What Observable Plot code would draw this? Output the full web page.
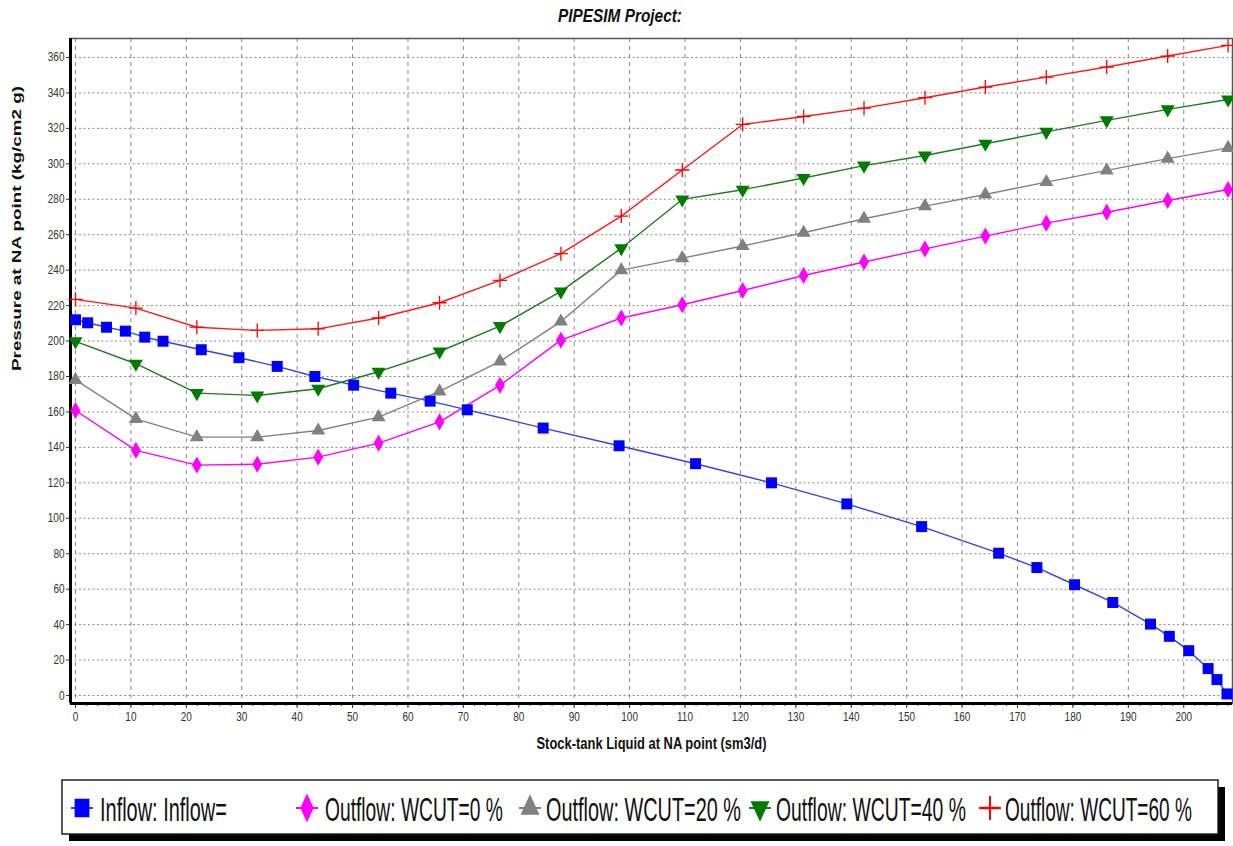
<!DOCTYPE html>
<html><head><meta charset="utf-8">
<script src="https://cdn.jsdelivr.net/npm/d3@7"></script>
<script src="https://cdn.jsdelivr.net/npm/@observablehq/plot@0.6"></script>
<style>
body{margin:0;background:#fff;width:1233px;height:846px;position:relative;overflow:hidden;font-family:"Liberation Sans",Arial,sans-serif;}
#chart{position:absolute;top:30px;left:0;}
#deco{position:absolute;top:0;left:0;pointer-events:none;}
</style></head>
<body>
<div id="chart"></div>
<script>
// ---- data ----
const xTicks = [0,10,20,30,40,50,60,70,80,90,100,110,120,130,140,150,160,170,180,190,200];
const yTicks = [0,20,40,60,80,100,120,140,160,180,200,220,240,260,280,300,320,340,360];

const inflowX = [0,2.2,5.6,9.0,12.5,15.8,22.7,29.5,36.4,43.2,50.2,56.9,64.0,70.7,84.4,98.1,111.9,125.6,139.2,152.7,166.6,173.5,180.3,187.2,194.0,197.4,200.9,204.4,206.0,207.8];
const inflowP = [212,210.3,207.8,205.6,202.2,199.9,195.1,190.6,185.7,180.0,175.1,170.6,166.1,161.2,150.9,140.9,130.8,120,108.1,95.3,80.3,72.2,62.5,52.5,40.3,33.4,25.3,15.2,9.0,0.9];

const outflowX = [0,10.9,21.9,32.8,43.8,54.7,65.7,76.6,87.6,98.5,109.5,120.4,131.4,142.3,153.3,164.2,175.2,186.1,197.1,208];
const wcut0  = [160.8,138.3,130,130.5,134.5,142.4,154.4,175,200.5,213,220.5,228.5,237,244.6,252,259.2,266.5,272.7,279.3,285.5];
const wcut20 = [178.1,156.1,145.8,145.8,149.5,157.1,171.6,188.5,211,240,246.8,253.6,261.1,269,276.1,282.7,289.7,296.3,302.9,309];
const wcut40 = [199.8,187.2,170.6,169.3,173.1,182.7,194.1,208.4,228,252.4,279.9,285.4,292,299,304.7,311.3,318,324.5,330.7,336.3];
const wcut60 = [223.5,218.6,207.8,206,206.9,213,221.6,234.2,249.3,270.5,296.5,322.2,326.7,331.4,337.3,343.3,348.9,354.6,360.8,366.8];

const seriesNames = ["Inflow: Inflow=","Outflow: WCUT=0 %","Outflow: WCUT=20 %","Outflow: WCUT=40 %","Outflow: WCUT=60 %"];
const titleText = "PIPESIM Project:";
const xLabel = "Stock-tank Liquid at NA point (sm3/d)";
const yLabel = "Pressure at NA point (kg/cm2 g)";

// ---- styles ----
const styles = [
  {line:"#3344d8", fill:"#0000ff", stroke:"none", symbol:"square", r:6.2, rotate:0},
  {line:"#ff00ff", fill:"#ff00ff", stroke:"none", symbol:"diamond", r:5.2, rotate:0},
  {line:"#808080", fill:"#808080", stroke:"none", symbol:"triangle", r:5.2, rotate:0},
  {line:"#1f7a1f", fill:"#007a00", stroke:"none", symbol:"triangle", r:5.2, rotate:180},
  {line:"#ff1a1a", fill:"none", stroke:"#ff0000", symbol:"plus", r:4.6, rotate:0}
];

const seriesData = [
  inflowX.map((x,i)=>({x, y:inflowP[i]})),
  outflowX.map((x,i)=>({x, y:wcut0[i]})),
  outflowX.map((x,i)=>({x, y:wcut20[i]})),
  outflowX.map((x,i)=>({x, y:wcut40[i]})),
  outflowX.map((x,i)=>({x, y:wcut60[i]}))
];

const xMinor = d3.range(0, 209, 2);
const xDom = [-0.9, 208.8];
const yDom = [-4.5, 370.7];

const marks = [
  Plot.gridX({ticks: xTicks, stroke:"#8a8a8a", strokeOpacity:1, strokeDasharray:"4,4", strokeWidth:1}),
  Plot.gridY({ticks: yTicks, stroke:"#8a8a8a", strokeOpacity:1, strokeDasharray:"2,2.5", strokeWidth:1}),
  Plot.frame({stroke:"#555", strokeWidth:1.5}),
  Plot.axisX({ticks: xMinor, tickSize:3, tickFormat:()=>"", stroke:"#444", label:null}),
  Plot.axisX({ticks: xTicks, tickSize:5, tickPadding:4, fontSize:12.5, fill:"#333", stroke:"#333", label:null}),
  Plot.axisY({ticks: yTicks, tickSize:4, tickPadding:2, fontSize:12.5, fill:"#333", stroke:"#333", label:null}),
  Plot.ruleX([xDom[0]], {stroke:"#000", strokeWidth:3}),
  Plot.ruleY([yDom[0]], {stroke:"#000", strokeWidth:3}),
];
seriesData.forEach((d,i)=>{
  const s = styles[i];
  marks.push(Plot.line(d, {x:"x", y:"y", stroke:s.line, strokeWidth:1.4}));
});
seriesData.forEach((d,i)=>{
  const s = styles[i];
  marks.push(Plot.dot(d, {x:"x", y:"y", symbol:s.symbol, r:s.r, fill:s.fill, stroke:s.stroke, strokeWidth:1.3, rotate:s.rotate}));
});
marks.push(Plot.text([xLabel], {frameAnchor:"bottom", lineAnchor:"bottom", dy:45, fontWeight:"bold", fontSize:17, fill:"#111", className:"xlab"}));
marks.push(Plot.text([yLabel], {frameAnchor:"left", dx:-54, rotate:-90, fontWeight:"bold", fontSize:13.5, fill:"#111", className:"ylab"}));

const chart = Plot.plot({
  width:1233, height:725,
  marginLeft:70, marginRight:1, marginTop:8, marginBottom:52,
  x:{domain:xDom, axis:null},
  y:{domain:yDom, axis:null},
  style:{fontFamily:"'Liberation Sans',Arial,sans-serif", fontSize:"12px", background:"#fff", overflow:"visible"},
  marks
});
document.getElementById("chart").appendChild(chart);

// condense text the way the reference does
function condense(sel, factor, fixed){
  sel.each(function(){
    const len = this.getComputedTextLength();
    if (!len) return;
    this.setAttribute("textLength", fixed != null ? fixed : len*factor);
    this.setAttribute("lengthAdjust","spacingAndGlyphs");
  });
}
const sc = d3.select(chart);
condense(sc.selectAll('g[aria-label="x-axis tick label"] text'), 0.8);
condense(sc.selectAll('g[aria-label="y-axis tick label"] text'), 0.8);
condense(sc.selectAll('.xlab text'), 1, 230);
condense(sc.selectAll('.ylab text'), 1, 285);

// ---- title and legend ----
const deco = d3.create("svg").attr("id","deco").attr("width",1233).attr("height",846);
document.body.appendChild(deco.node());
function squeezeText(x, y, width, anchor, attrs, str){
  const t = deco.append("text").attr("x",0).attr("y",0).attr("text-anchor",anchor).text(str);
  Object.entries(attrs).forEach(([k,v])=>t.attr(k,v));
  const len = t.node().getComputedTextLength();
  t.attr("transform",`translate(${x},${y}) scale(${width/len},1)`);
  return t;
}
squeezeText(620, 22, 124, "middle",
  {"font-family":"'Liberation Sans',Arial,sans-serif","font-weight":"bold","font-style":"italic","font-size":19,"fill":"#111"}, titleText);
deco.append("rect").attr("x",69).attr("y",787).attr("width",1156).attr("height",54).attr("fill","#000");
deco.append("rect").attr("x",62).attr("y",780).attr("width",1156).attr("height",54).attr("fill","#fff").attr("stroke","#222").attr("stroke-width",1.5);
const mkX = [82, 307, 530, 760, 990];
const txX = [100, 325, 546, 776, 1005];
const txW = [127, 178, 195, 190, 187];
const symMap = {square:d3.symbolSquare, diamond:d3.symbolDiamond, triangle:d3.symbolTriangle, plus:d3.symbolPlus};
seriesNames.forEach((name,i)=>{
  const s = styles[i];
  deco.append("line").attr("x1",mkX[i]-11).attr("x2",mkX[i]+11).attr("y1",808).attr("y2",808).attr("stroke",s.line).attr("stroke-width",2);
  deco.append("path").attr("d", d3.symbol(symMap[s.symbol], Math.PI*Math.pow(s.r*1.35,2))())
    .attr("transform",`translate(${mkX[i]},808) scale(1,1.25) rotate(${s.rotate})`)
    .attr("fill", s.fill).attr("stroke", s.stroke).attr("stroke-width",2);
  squeezeText(txX[i], 821, txW[i], "start",
    {"font-family":"'Liberation Sans',Arial,sans-serif","font-size":33,"fill":"#111"}, name);
});
</script>
</body></html>
